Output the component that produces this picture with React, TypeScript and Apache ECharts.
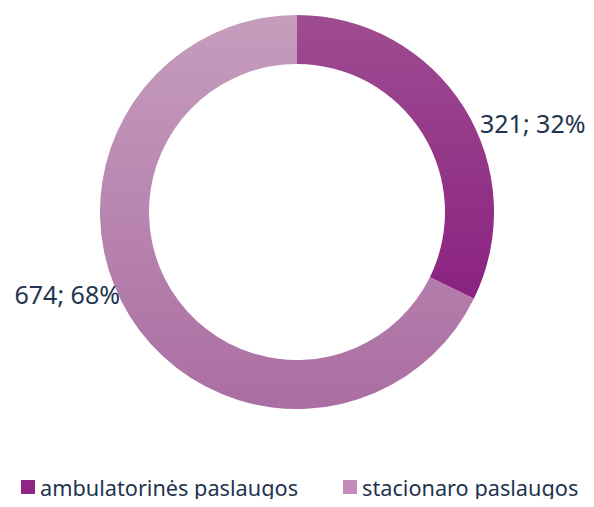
import React, { useEffect, useRef } from "react";
import * as echarts from "echarts";

const categories = ["ambulatorinės paslaugos", "stacionaro paslaugos"];
const values = [321, 674];
const percents = [32, 68];
const topColors = ["#9e4c91", "#c69dbd"];
const bottomColors = ["#83127a", "#aa6ea2"];
const legendColors = ["#8e2784", "#c08bb8"];

export default function App() {
  const ref = useRef<HTMLDivElement>(null);
  useEffect(() => {
    if (!ref.current) return;
    const chart = echarts.init(ref.current, undefined, { renderer: "svg" });
    const cx = 297;
    const cy = 212;
    const R = 197;
    const data = categories.map((name, i) => ({
      name,
      value: values[i],
      itemStyle: {
        color: new echarts.graphic.LinearGradient(
          0,
          cy - R,
          0,
          cy + R,
          [
            { offset: 0, color: topColors[i] },
            { offset: 1, color: bottomColors[i] },
          ],
          true
        ),
      },
    }));
    chart.setOption({
      animation: false,
      legend: {
        bottom: 3,
        left: 16,
        itemWidth: 14,
        itemHeight: 14,
        itemGap: 45,
        icon: "rect",
        textStyle: {
          fontFamily: "'Noto Sans', sans-serif",
          fontSize: 21.7,
          lineHeight: 24,
          color: "#1f3450",
        },
        data: categories.map((name, i) => ({
          name,
          itemStyle: { color: legendColors[i] },
        })),
      },
      series: [
        {
          type: "pie",
          center: [cx, cy],
          radius: [148, R],
          startAngle: 90,
          clockwise: true,
          silent: true,
          data,
          label: {
            show: true,
            position: "outside",
            overflow: "none",
            formatter: (p: any) => `${p.value}; ${percents[p.dataIndex]}%`,
            fontFamily: "'Noto Sans', sans-serif",
            fontSize: 25,
            color: "#1f3450",
          },
          labelLine: { show: false },
          labelLayout: (p: any) => {
            if (p.dataIndex === 0) {
              return { x: 480, y: 123, align: "left", verticalAlign: "middle" };
            }
            return { x: 120, y: 294, align: "right", verticalAlign: "middle" };
          },
        },
      ],
    });
    return () => chart.dispose();
  }, []);
  return <div ref={ref} style={{ width: 594, height: 507, margin: -8 }} />;
}
